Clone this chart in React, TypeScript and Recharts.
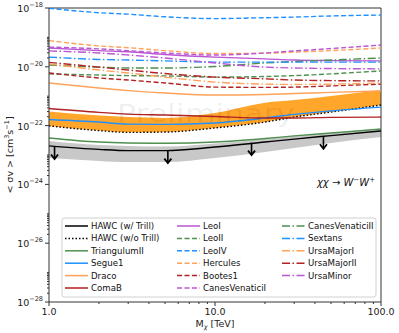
import React from 'react';
import {
  Area, ComposedChart, Line, ReferenceLine,
  Scatter, XAxis, YAxis } from 'recharts';

// dark matter mass grid [TeV]
const masses = [1, 2, 3, 5, 10, 20, 30, 50, 100];

// log10 of <sigma v> limits [cm^3 s^-1]
const hawcTrill = [-22.69, -22.81, -22.85, -22.85, -22.73, -22.56, -22.46, -22.34, -22.18];
const hawcTrillLo = [-23.10, -23.20, -23.24, -23.24, -23.10, -22.90, -22.76, -22.59, -22.39];
const hawcTrillHi = [-22.52, -22.66, -22.69, -22.71, -22.61, -22.46, -22.35, -22.25, -22.08];
const hawcNoTrill = [-22.01, -22.17, -22.23, -22.22, -22.08, -21.88, -21.71, -21.54, -21.30];
const noTrillBandHi = [-21.52, -21.66, -21.71, -21.74, -21.57, -21.22, -21.13, -20.99, -20.79];
const triangulumII = [-22.42, -22.56, -22.59, -22.60, -22.56, -22.44, -22.35, -22.25, -22.12];
const segue1 = [-21.79, -21.88, -21.95, -21.96, -21.91, -21.74, -21.62, -21.50, -21.37];
const draco = [-20.55, -20.72, -20.81, -20.89, -20.96, -20.94, -20.91, -20.87, -20.82];
const comaB = [-21.42, -21.55, -21.61, -21.64, -21.69, -21.74, -21.74, -21.72, -21.71];
const leoI = [-19.36, -19.45, -19.49, -19.58, -19.67, -19.73, -19.77, -19.79, -19.80];
const leoII = [-20.24, -20.28, -20.30, -20.31, -20.35, -20.33, -20.30, -20.24, -20.14];
const leoIV = [-18.01, -18.16, -18.21, -18.30, -18.36, -18.33, -18.31, -18.27, -18.24];
const hercules = [-19.11, -19.29, -19.35, -19.45, -19.55, -19.54, -19.50, -19.45, -19.36];
const bootes1 = [-20.21, -20.38, -20.45, -20.55, -20.69, -20.70, -20.69, -20.65, -20.59];
const canesVenaticiI = [-19.33, -19.39, -19.45, -19.53, -19.60, -19.53, -19.46, -19.38, -19.26];
const canesVenaticiII = [-19.94, -20.01, -20.04, -20.04, -19.99, -19.87, -19.82, -19.77, -19.70];
const sextans = [-19.67, -19.75, -19.77, -19.80, -19.84, -19.84, -19.84, -19.84, -19.84];
const ursaMajorI = [-19.90, -20.11, -20.21, -20.35, -20.52, -20.59, -20.60, -20.59, -20.55];
const ursaMajorII = [-19.85, -20.01, -20.11, -20.23, -20.35, -20.41, -20.45, -20.47, -20.48];
const ursaMinor = [-19.46, -19.53, -19.60, -19.70, -19.87, -20.01, -20.04, -20.06, -20.07];

// upper-limit arrows on the HAWC curve
const arrowMasses = [1.08, 5.2, 16.6, 45];
const arrowLevels = [-22.71, -22.85, -22.58, -22.36];

const xMajor = [1, 10, 100];
const xTicks = [1, 2, 3, 4, 5, 6, 7, 8, 9, 10, 20, 30, 40, 50, 60, 70, 80, 90, 100];
const yMajor = [-28, -26, -24, -22, -20, -18];
const yTicks = [...yMajor];
[-28, -26, -24, -22, -20].forEach((n) => {
  [2, 3, 4, 5, 6, 7, 8, 9, 10].forEach((k) => yTicks.push(n + Math.log10(k)));
});

const GREEN = '#4f8f4f';
const BLUE = '#1e90ff';
const ORANGE = '#ffa25a';
const RED = '#b22222';
const PURPLE = '#ba55d3';
const SOLID = undefined;
const DASH = '5 2.5';
const DASHDOT = '8 2.5 1.5 2.5';

const series = [
  { key: 'hawcTrill', name: 'HAWC (w/ Trill)', values: hawcTrill, color: '#000', dash: SOLID, col: 0 },
  { key: 'hawcNoTrill', name: 'HAWC (w/o Trill)', values: hawcNoTrill, color: '#000', dash: '1.5 2', col: 0 },
  { key: 'triangulumII', name: 'TriangulumII', values: triangulumII, color: GREEN, dash: SOLID, col: 0 },
  { key: 'segue1', name: 'Segue1', values: segue1, color: BLUE, dash: SOLID, col: 0 },
  { key: 'draco', name: 'Draco', values: draco, color: ORANGE, dash: SOLID, col: 0 },
  { key: 'comaB', name: 'ComaB', values: comaB, color: RED, dash: SOLID, col: 0 },
  { key: 'leoI', name: 'LeoI', values: leoI, color: PURPLE, dash: SOLID, col: 1 },
  { key: 'leoII', name: 'LeoII', values: leoII, color: GREEN, dash: DASH, col: 1 },
  { key: 'leoIV', name: 'LeoIV', values: leoIV, color: BLUE, dash: DASH, col: 1 },
  { key: 'hercules', name: 'Hercules', values: hercules, color: ORANGE, dash: DASH, col: 1 },
  { key: 'bootes1', name: 'Bootes1', values: bootes1, color: RED, dash: DASH, col: 1 },
  { key: 'canesVenaticiI', name: 'CanesVenaticiI', values: canesVenaticiI, color: PURPLE, dash: DASH, col: 1 },
  { key: 'canesVenaticiII', name: 'CanesVenaticiII', values: canesVenaticiII, color: GREEN, dash: DASHDOT, col: 2 },
  { key: 'sextans', name: 'Sextans', values: sextans, color: BLUE, dash: DASHDOT, col: 2 },
  { key: 'ursaMajorI', name: 'UrsaMajorI', values: ursaMajorI, color: ORANGE, dash: DASHDOT, col: 2 },
  { key: 'ursaMajorII', name: 'UrsaMajorII', values: ursaMajorII, color: RED, dash: DASHDOT, col: 2 },
  { key: 'ursaMinor', name: 'UrsaMinor', values: ursaMinor, color: PURPLE, dash: DASHDOT, col: 2 },
];

const rows = masses.map((m, i) => {
  const row: any = {
    m,
    hawcBand: [hawcTrillLo[i], hawcTrillHi[i]],
    noTrillBand: [hawcNoTrill[i], noTrillBandHi[i]],
  };
  series.forEach((s) => { row[s.key] = s.values[i]; });
  return row;
});

const arrows = arrowMasses.map((m, i) => ({ m, y: arrowLevels[i] }));

const FONT = '"DejaVu Sans", sans-serif';
const AXIS = '#333';

const XTick = (props: any) => {
  const { x, y, payload } = props;
  const major = xMajor.includes(payload.value);
  return (
    <g>
      <line x1={x} x2={x} y1={y} y2={y + (major ? 4 : 2)} stroke={AXIS} />
      {major && (
        <text x={x} y={y + 13} textAnchor="middle" fontSize={9.5} fontFamily={FONT} fill="#222">
          {payload.value.toFixed(1)}
        </text>
      )}
    </g>
  );
};

const YTick = (props: any) => {
  const { x, y, payload } = props;
  const major = yMajor.includes(payload.value);
  return (
    <g>
      <line x1={x - (major ? 4 : 2)} x2={x} y1={y} y2={y} stroke={AXIS} />
      {major && (
        <text x={x - 6} y={y + 4} textAnchor="end" fontSize={9.5} fontFamily={FONT} fill="#222">
          10<tspan dy={-5} fontSize={6.5}>{`−${-payload.value}`}</tspan>
        </text>
      )}
    </g>
  );
};

const ArrowShape = (props: any) => {
  const { cx, cy } = props;
  return (
    <g>
      <line x1={cx} y1={cy} x2={cx} y2={cy + 12} stroke="#000" strokeWidth={1.6} />
      <polyline
        points={`${cx - 3.5},${cy + 8} ${cx},${cy + 12.5} ${cx + 3.5},${cy + 8}`}
        fill="none" stroke="#000" strokeWidth={1.8} />
    </g>
  );
};

const legendX = [[65, 91], [177, 203], [282, 308]];
const legendY = [226, 238.4, 250.8, 263.2, 275.6, 288];

function Legendbox() {
  const colRow = [0, 0, 0];
  return (
    <g fontFamily={FONT} fontSize={8.6} fill="#111">
      <rect x={62} y={218} width={314} height={79} rx={2.5} fill="#fff" fillOpacity={0.85} stroke="#d0d0d0" />
      {series.map((s) => {
        const r = colRow[s.col]++;
        const [hx, tx] = legendX[s.col];
        const cy = legendY[r];
        return (
          <g key={s.key}>
            <line x1={hx} x2={hx + 23} y1={cy} y2={cy} stroke={s.color} strokeWidth={1.5} strokeDasharray={s.dash} />
            <text x={tx} y={cy + 3}>{s.name}</text>
          </g>
        );
      })}
    </g>
  );
}

export default function App() {
  return (
    <div style={{ position: 'absolute', left: 0, top: 0, width: 399, height: 333, background: '#fff' }}>
      <ComposedChart width={399} height={333} data={rows} margin={{ top: 8, right: 18, left: 0, bottom: 0 }}>
        <XAxis dataKey="m" type="number" scale="log" domain={[1, 100]} allowDataOverflow
          ticks={xTicks} interval={0} tick={<XTick />} tickLine={false} tickSize={0} tickMargin={0}
          height={31} stroke={AXIS} />
        <YAxis type="number" domain={[-28, -18]} allowDataOverflow ticks={yTicks} interval={0}
          tick={<YTick />} tickLine={false} tickSize={0} tickMargin={0} width={49} stroke={AXIS} />
        <ReferenceLine y={-18} stroke={AXIS} />
        <ReferenceLine x={100} stroke={AXIS} />
        <Area dataKey="hawcBand" type="monotone" fill="#c8c8c8" fillOpacity={1} stroke="none" isAnimationActive={false} />
        <Area dataKey="noTrillBand" type="monotone" fill="#ffa62b" fillOpacity={1} stroke="none" isAnimationActive={false} />
        {series.map((s) => (
          <Line key={s.key} dataKey={s.key} type="monotone" stroke={s.color} strokeWidth={1.4}
            strokeDasharray={s.dash} dot={false} activeDot={false} isAnimationActive={false} />
        ))}
        <Scatter data={arrows} dataKey="y" shape={<ArrowShape />} isAnimationActive={false} />
      </ComposedChart>
      <svg width={399} height={333} style={{ position: 'absolute', left: 0, top: 0, pointerEvents: 'none' }}>
        <text x={206} y={122} textAnchor="middle" fontFamily={FONT} fontSize={24} textLength={178}
          lengthAdjust="spacingAndGlyphs" fill="#000" fillOpacity={0.07}>Preliminary</text>
        <text x={375} y={186} textAnchor="end" fontFamily={FONT} fontSize={10} fill="#111">
          <tspan fontStyle="italic">χχ</tspan> → <tspan fontStyle="italic">W</tspan>
          <tspan dy={-4} fontSize={7}>−</tspan>
          <tspan dy={4} fontStyle="italic">W</tspan>
          <tspan dy={-4} fontSize={7}>+</tspan>
        </text>
        <text transform="translate(13,155) rotate(-90)" textAnchor="middle" fontFamily={FONT} fontSize={9.5} fill="#222">
          {'< σv > [cm'}<tspan dy={-4} fontSize={6.5}>3</tspan><tspan dy={4}>s</tspan>
          <tspan dy={-4} fontSize={6.5}>−1</tspan><tspan dy={4}>]</tspan>
        </text>
        <text x={215} y={327} textAnchor="middle" fontFamily={FONT} fontSize={9.5} fill="#222">
          M<tspan dy={2} fontSize={6.5} fontStyle="italic">χ</tspan><tspan dy={-2}> [TeV]</tspan>
        </text>
        <Legendbox />
      </svg>
    </div>
  );
}
